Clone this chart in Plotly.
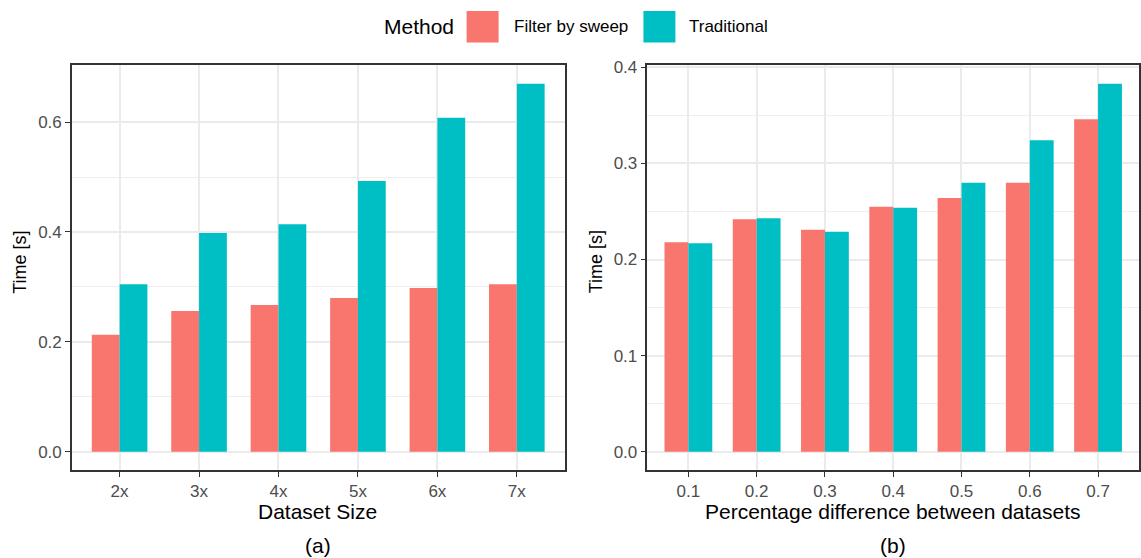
import plotly.graph_objects as go

W, H = 1141, 558

# ---- data ----
size_labels = ["2x", "3x", "4x", "5x", "6x", "7x"]
size_filter = [0.213, 0.256, 0.267, 0.280, 0.298, 0.305]
size_trad = [0.305, 0.398, 0.414, 0.493, 0.608, 0.670]

pct_labels = ["0.1", "0.2", "0.3", "0.4", "0.5", "0.6", "0.7"]
pct_filter = [0.218, 0.242, 0.231, 0.255, 0.264, 0.280, 0.346]
pct_trad = [0.217, 0.243, 0.229, 0.254, 0.280, 0.324, 0.383]

methods = ["Filter by sweep", "Traditional"]
colors = ["#F8766D", "#00BFC4"]

FONT = "Liberation Sans, Arial, sans-serif"

def px_x(p):
    return p / W

def px_y(p):
    return 1 - p / H

fig = go.Figure()
fig.add_trace(go.Bar(x=size_labels, y=size_filter, name=methods[0], marker_color=colors[0],
                     marker_line_width=0, xaxis="x", yaxis="y", showlegend=False))
fig.add_trace(go.Bar(x=size_labels, y=size_trad, name=methods[1], marker_color=colors[1],
                     marker_line_width=0, xaxis="x", yaxis="y", showlegend=False))
fig.add_trace(go.Bar(x=pct_labels, y=pct_filter, name=methods[0], marker_color=colors[0],
                     marker_line_width=0, xaxis="x2", yaxis="y2", showlegend=False))
fig.add_trace(go.Bar(x=pct_labels, y=pct_trad, name=methods[1], marker_color=colors[1],
                     marker_line_width=0, xaxis="x2", yaxis="y2", showlegend=False))

ydom = [px_y(469), px_y(59)]

common_x = dict(
    type="category", showgrid=True, gridcolor="#EBEBEB", gridwidth=1.8,
    showline=True, linecolor="#333333", linewidth=1.5, mirror=True,
    ticks="outside", ticklen=5, tickwidth=1.1, tickcolor="#333333",
    tickfont=dict(family=FONT, size=17, color="#4D4D4D"), zeroline=False,
)
common_y = dict(
    showgrid=True, gridcolor="#EBEBEB", gridwidth=1.8,
    showline=True, linecolor="#333333", linewidth=1.5, mirror=True,
    ticks="outside", ticklen=5, tickwidth=1.1, tickcolor="#333333",
    tickfont=dict(family=FONT, size=17, color="#4D4D4D"), zeroline=False,
    tickformat=".1f", domain=ydom,
)

fig.update_layout(
    width=W, height=H,
    margin=dict(l=0, r=0, t=0, b=0),
    paper_bgcolor="white", plot_bgcolor="white",
    barmode="group", bargap=0.3, bargroupgap=0,
    font=dict(family=FONT),
    xaxis=dict(common_x, domain=[px_x(72), px_x(565)], range=[-0.6, 5.6], anchor="y"),
    yaxis=dict(common_y, range=[-0.0335, 0.7035], tickvals=[0, 0.2, 0.4, 0.6], anchor="x",
               minor=dict(tickvals=[0.1, 0.3, 0.5], showgrid=True, gridcolor="#EEEEEE",
                          gridwidth=1, ticks="")),
    xaxis2=dict(common_x, domain=[px_x(648), px_x(1140)], range=[-0.6, 6.6], anchor="y2"),
    yaxis2=dict(common_y, range=[-0.01915, 0.40215], tickvals=[0, 0.1, 0.2, 0.3, 0.4], anchor="x2",
                minor=dict(tickvals=[0.05, 0.15, 0.25, 0.35], showgrid=True, gridcolor="#EEEEEE",
                           gridwidth=1, ticks="")),
)

ann = []
def text(x, y, s, size, color="black", xanchor="center", angle=0):
    ann.append(dict(x=px_x(x), y=px_y(y), xref="paper", yref="paper", text=s, showarrow=False,
                    xanchor=xanchor, yanchor="middle", textangle=angle,
                    font=dict(family=FONT, size=size, color=color)))

text(318, 511, "Dataset Size", 21)
text(894, 511, "Percentage difference between datasets", 21)
text(318, 545, "(a)", 21)
text(894, 545, "(b)", 21)
text(20, 258, "Time [s]", 18, angle=-90)
text(596, 258, "Time [s]", 18, angle=-90)

# legend
text(382, 20, "Method", 21, xanchor="left")
text(512, 20, methods[0], 17, xanchor="left")
text(688, 20, methods[1], 17, xanchor="left")
fig.update_layout(annotations=ann)

shapes = []
for x0, c in [(467, colors[0]), (644, colors[1])]:
    shapes.append(dict(type="rect", xref="paper", yref="paper",
                       x0=px_x(x0), x1=px_x(x0 + 32), y0=px_y(36), y1=px_y(4),
                       fillcolor=c, line=dict(width=0)))
fig.update_layout(shapes=shapes)

fig.write_html("out.html", config={"displayModeBar": False},
               post_script="document.body.style.margin='0';document.body.style.overflow='hidden';")
